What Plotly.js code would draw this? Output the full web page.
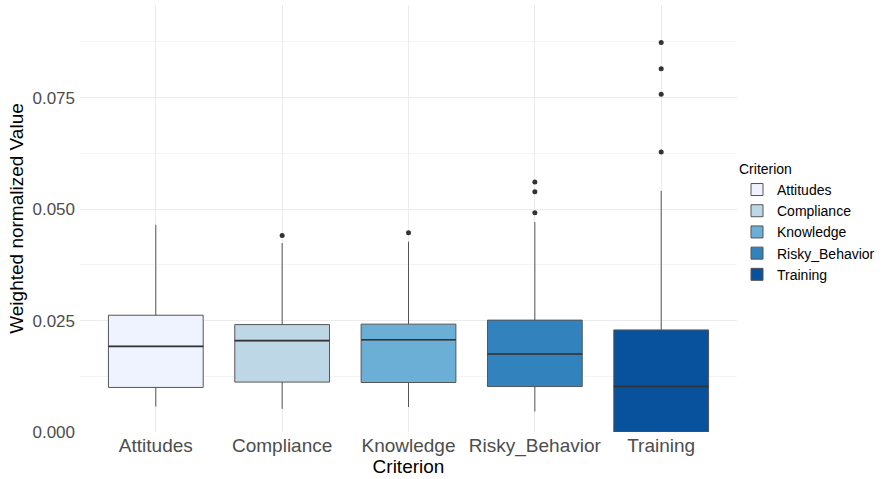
<!DOCTYPE html>
<html>
<head>
<meta charset="utf-8">
<script src="https://cdn.plot.ly/plotly-3.0.1.min.js"></script>
<style>html,body{margin:0;padding:0;background:#fff;}#chart{width:885px;height:479px;}</style>
</head>
<body>
<div id="chart"></div>
<script>
const categories = ["Attitudes", "Compliance", "Knowledge", "Risky_Behavior", "Training"];
const lowerWhisker = [0.0057, 0.0052, 0.0056, 0.0046, 0.0000];
const q1Values = [0.0100, 0.0112, 0.0111, 0.0102, 0.0000];
const medianValues = [0.0192, 0.0205, 0.0207, 0.0175, 0.0102];
const q3Values = [0.0262, 0.0241, 0.0242, 0.0251, 0.0229];
const upperWhisker = [0.0465, 0.0424, 0.0427, 0.0471, 0.0541];
const outliers = [[], [0.0441], [0.0447], [0.0492, 0.0539, 0.0561], [0.0628, 0.0758, 0.0815, 0.0874]];
const fillColors = ["#eff3ff", "#bdd7e7", "#6baed6", "#3182bd", "#08519c"];

const traces = [];
categories.forEach((c, i) => {
  traces.push({
    type: "box",
    name: c,
    x: [c],
    q1: [q1Values[i]],
    median: [medianValues[i]],
    q3: [q3Values[i]],
    lowerfence: [lowerWhisker[i]],
    upperfence: [upperWhisker[i]],
    boxpoints: false,
    width: 0.75,
    whiskerwidth: 0,
    fillcolor: fillColors[i],
    line: {color: "#555555", width: 1},
    hoverinfo: "skip"
  });
});
// thicker median lines (ggplot style)
categories.forEach((c, i) => {
  const m = medianValues[i];
  traces.push({
    type: "box",
    name: c + " median",
    x: [c],
    q1: [m], median: [m], q3: [m], lowerfence: [m], upperfence: [m],
    boxpoints: false,
    width: 0.75,
    whiskerwidth: 0,
    fillcolor: "rgba(0,0,0,0)",
    line: {color: "#333333", width: 1.6},
    showlegend: false,
    hoverinfo: "skip"
  });
});
categories.forEach((c, i) => {
  if (outliers[i].length) {
    traces.push({
      type: "scatter",
      mode: "markers",
      x: outliers[i].map(() => c),
      y: outliers[i],
      marker: {color: "#333333", size: 5},
      showlegend: false,
      hoverinfo: "skip"
    });
  }
});

const layout = {
  width: 885, height: 479,
  margin: {l: 80, r: 148, t: 5, b: 47, autoexpand: false},
  paper_bgcolor: "#ffffff",
  plot_bgcolor: "#ffffff",
  font: {family: "Liberation Sans, Arial, sans-serif", color: "#4d4d4d"},
  showlegend: true,
  boxmode: "overlay",
  xaxis: {
    type: "category",
    categoryorder: "array",
    categoryarray: categories,
    range: [-0.6, 4.6],
    showgrid: true,
    gridcolor: "#ebebeb",
    gridwidth: 1,
    zeroline: false,
    showline: false,
    ticks: "",
    tickfont: {size: 19, color: "#4d4d4d"},
    title: {text: "Criterion", font: {size: 19, color: "#000000"}, standoff: 2}
  },
  yaxis: {
    range: [0, 0.0958],
    tickvals: [0, 0.025, 0.05, 0.075],
    ticktext: ["0.000", "0.025", "0.050", "0.075"],
    showgrid: true,
    gridcolor: "#ebebeb",
    gridwidth: 1,
    minor: {tickvals: [0.0125, 0.0375, 0.0625, 0.0875], showgrid: true, gridcolor: "#f4f4f4", gridwidth: 1},
    zeroline: false,
    showline: false,
    ticks: "",
    ticklabelstandoff: 4,
    tickfont: {size: 17, color: "#4d4d4d"},
    title: {text: "Weighted normalized Value", font: {size: 19, color: "#000000"}, standoff: 3}
  },
  legend: {
    x: 1.0, xanchor: "left",
    y: 0.647, yanchor: "top",
    title: {text: "Criterion", font: {size: 14, color: "#000000"}},
    font: {size: 14, color: "#000000"},
    tracegroupgap: 0,
    itemwidth: 30,
    bgcolor: "rgba(0,0,0,0)"
  }
};

Plotly.newPlot("chart", traces, layout, {displayModeBar: false, staticPlot: true});
</script>
</body>
</html>
